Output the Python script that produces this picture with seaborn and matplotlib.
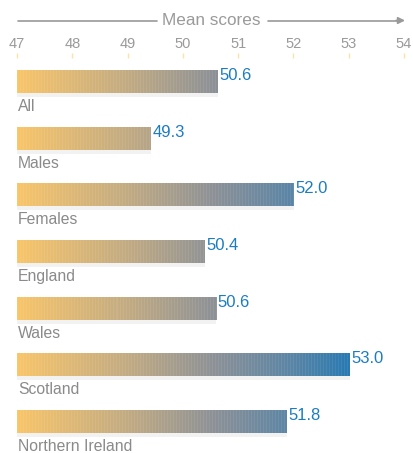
import numpy as np
import pandas as pd
import matplotlib
matplotlib.use("Agg")
import matplotlib.pyplot as plt
import seaborn as sns
from matplotlib.colors import LinearSegmentedColormap, Normalize
from matplotlib.patches import Rectangle

categories = ["All", "Males", "Females", "England", "Wales", "Scotland", "Northern Ireland"]
scores = [50.63, 49.42, 52.01, 50.4, 50.6, 53.02, 51.88]
value_labels = ["50.6", "49.3", "52.0", "50.4", "50.6", "53.0", "51.8"]
ticks = [47, 48, 49, 50, 51, 52, 53, 54]
axis_title = "Mean scores"

df = pd.DataFrame({"category": categories, "score": scores})

sns.set_theme(style="white")
plt.rcParams["font.family"] = ["Liberation Sans", "DejaVu Sans"]

W, H = 414, 453
fig = plt.figure(figsize=(W / 100, H / 100), dpi=100)

x0_px, x1_px = 17, 404
top_px = 58
ax = fig.add_axes([x0_px / W, 0, (x1_px - x0_px) / W, (H - top_px) / H])

sns.barplot(data=df, x="score", y="category", orient="h", ax=ax,
            width=0.405, color="white")

xmin, xmax = ticks[0], ticks[-1]
row_px = 56.67
first_center_px = 81.5
y_top = -(first_center_px - top_px) / row_px
y_bot = (H - first_center_px) / row_px

cmap = LinearSegmentedColormap.from_list(
    "grad",
    [(0.0, "#f8c56a"), (2 / 6, "#c2ab83"), (3.6 / 6, "#8c9197"),
     (5 / 6, "#5a85a6"), (1.0, "#2a7ab2")])
norm = Normalize(47, 53)

px_per_unit = (x1_px - x0_px) / (xmax - xmin)
for patch, val, lab, cat in zip(ax.patches, scores, value_labels, categories):
    y = patch.get_y()
    h = patch.get_height()
    patch.set_facecolor("none")
    patch.set_edgecolor("none")
    n = max(2, int(round((val - xmin) * px_per_unit)))
    xs = np.linspace(xmin, val, n)
    cols = cmap(norm(xs))[:, :3]
    stripe = np.zeros(n)
    stripe[::3] = 0.07
    cols = cols + (1 - cols) * stripe[:, None]
    ax.imshow(cols[None, :, :], extent=[xmin, val, y + h, y], aspect="auto",
              interpolation="nearest", zorder=2)
    ax.add_patch(Rectangle((xmin, y + h), val - xmin, 4 / row_px,
                           facecolor="#f2f2f2", edgecolor="none", zorder=1))
    ax.text(val + 0.03, y + h / 2 - 0.105, lab, color="#1b7cc1",
            fontsize=12, va="center", ha="left", zorder=3)
    ax.text(xmin + 0.02, y + h / 2 + 0.44, cat, color="#8a8a8a",
            fontsize=11.3, va="center", ha="left", zorder=3)

ax.set_ylim(y_bot, y_top)
ax.set_xlim(xmin, xmax)
ax.set_xlabel("")
ax.set_ylabel("")
ax.set_yticks([])
ax.xaxis.tick_top()
ax.set_xticks(ticks)
ax.set_xticklabels([str(t) for t in ticks])
ax.tick_params(axis="x", top=True, bottom=False, length=3.8, width=1,
               color="#fde3a8", labelcolor="#9a9a9a", labelsize=10.5, pad=1.2,
               direction="out")
for s in ax.spines.values():
    s.set_visible(False)
ax.set_facecolor("white")

ty = 1 - 20.5 / H
fig.text(211.5 / W, ty, axis_title, ha="center", va="center",
         color="#9a9a9a", fontsize=12.3)
fig.add_artist(plt.Line2D([18 / W, 157 / W], [ty, ty], color="#9a9a9a",
                          lw=1.2, transform=fig.transFigure))
fig.add_artist(plt.Line2D([268 / W, 398 / W], [ty, ty], color="#9a9a9a",
                          lw=1.2, transform=fig.transFigure))
ax.annotate("", xy=(405 / W, ty), xytext=(396 / W, ty),
            xycoords="figure fraction", textcoords="figure fraction",
            arrowprops=dict(arrowstyle="-|>", color="#9a9a9a", lw=1.2,
                            mutation_scale=10, shrinkA=0, shrinkB=0))

fig.savefig("out.png", dpi=100, facecolor="white")
